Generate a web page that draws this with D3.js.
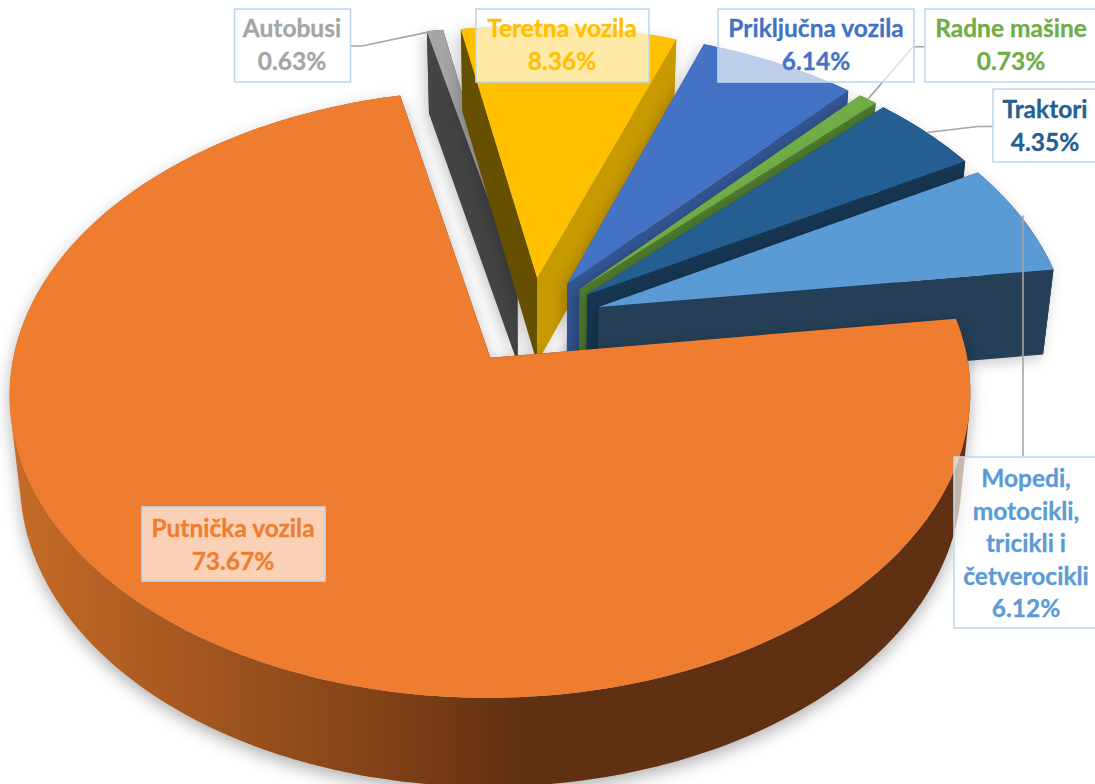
<!DOCTYPE html>
<html><head><meta charset="utf-8">
<script src="https://cdn.jsdelivr.net/npm/d3@7"></script>
<style>html,body{margin:0;padding:0;background:#fff;overflow:hidden}svg{display:block}</style>
</head><body><svg id="c" width="1095" height="784"></svg>
<script>
// data
const categories = ["Putnička vozila","Autobusi","Teretna vozila","Priključna vozila","Radne mašine","Traktori","Mopedi, motocikli, tricikli i četverocikli"];
const values = [73.67,0.63,8.36,6.14,0.73,4.35,6.12];
const valueLabels = ["73.67%","0.63%","8.36%","6.14%","0.73%","4.35%","6.12%"];
const labelLines = [["Putnička vozila"],["Autobusi"],["Teretna vozila"],["Priključna vozila"],["Radne mašine"],["Traktori"],["Mopedi,","motocikli,","tricikli i","četverocikli"]];

// style
const topColors  = ["#EF7D30","#A5A5A5","#FFC000","#4472C4","#70AD47","#255E91","#5B9BD5"];
const textColors = ["#EF7D30","#A5A5A5","#FFC000","#4472C4","#70AD47","#255E91","#5B9BD5"];
const sideStart = ["#5F3012","#444444","#665000","#335593","#4E7A30","#163652","#243F57"];
const sideEnd   = ["#5F3012","#444444","#C79A00","#335593","#4E7A30","#163652","#243F57"];
const drawOrder = [1,2,3,4,5,6,0];

// layout: [x0,y0,x1,y1,textCx,firstBaseline]
const boxes = [
 [142,507,325,581,233,537],
 [234.5,9,350.5,82,292,37],
 [476,9,649,82,562,37],
 [718,9,914,82,816,37],
 [925,9,1097,82,1011,37],
 [993,89,1097,162,1045,118],
 [954,457,1097,628,1026,487]];
const lineStep = 32.6;

const Cx=531.5, Cy=321, R=470, S=291, K=0.117, SKEW=2.8, EXPL=0.152, startDeg=82.4;
const xScale=d3.scaleLinear().domain([-1,1]).range([Cx-R,Cx+R]);
const yScale=d3.scaleLinear().domain([-1,1]).range([Cy-S,Cy+S]);

function project(p,q,bottom){
  const w=1-K*q;
  let X=xScale(p/w)+SKEW*q, Y=yScale(q/w);
  if(bottom){ X=Cx+(X-Cx)*0.98; Y=Y+85.5+3*q; }
  return [X,Y];
}
const pie=d3.pie().sort(null).startAngle(startDeg*Math.PI/180).endAngle((startDeg+360)*Math.PI/180);
const arcs=pie(values);

function sliceGeom(a){
  const mid=(a.startAngle+a.endAngle)/2;
  const ox=EXPL*Math.sin(mid), oy=-EXPL*Math.cos(mid);
  const pt=(th,r,b)=>project(ox+r*Math.sin(th),oy-r*Math.cos(th),b);
  const n=Math.max(2,Math.ceil((a.endAngle-a.startAngle)*60));
  const ths=d3.range(n+1).map(i=>a.startAngle+(a.endAngle-a.startAngle)*i/n);
  return {mid,pt,ths};
}
const line=d3.line();
const svg=d3.select("#c");
const defs=svg.append("defs");
const grad=defs.append("linearGradient").attr("id","wall").attr("gradientUnits","userSpaceOnUse")
  .attr("x1",15).attr("x2",965).attr("y1",0).attr("y2",0);
[[0,"#C66B27"],[0.4,"#7F4017"],[0.54,"#5F3012"],[1,"#5F3012"]]
 .forEach(s=>grad.append("stop").attr("offset",s[0]).attr("stop-color",s[1]));

const gPie=svg.append("g");
drawOrder.forEach(i=>{
  const g=sliceGeom(arcs[i]);
  const sg=gPie.append("g").style("filter",i===0?"drop-shadow(0px 6px 8px rgba(0,0,0,.3))":"drop-shadow(-3px 4px 7px rgba(0,0,0,.22))");
  const aTop=g.pt(0,0,false), aBot=g.pt(0,0,true);
  const outerTop=g.ths.map(t=>g.pt(t,1,false));
  const wallFill=i===0?"url(#wall)":sideEnd[i];
  // outer wall: swept quads with one winding in a single path, so there are no seams
  const wallD=d3.pairs(g.ths).map(([t0,t1])=>{
    const q=[g.pt(t0,1,false),g.pt(t1,1,false),g.pt(t1,1,true),g.pt(t0,1,true)];
    if(d3.polygonArea(q)<0) q.reverse();
    return line(q)+"Z";
  }).join("");
  sg.append("path").attr("d",wallD).attr("fill",wallFill);
  const s=arcs[i].startAngle,e=arcs[i].endAngle;
  sg.append("path").attr("d",line([aTop,g.pt(e,1,false),g.pt(e,1,true),aBot])+"Z").attr("fill",sideEnd[i]);
  sg.append("path").attr("d",line([aTop,g.pt(s,1,false),g.pt(s,1,true),aBot])+"Z").attr("fill",sideStart[i]);
  sg.append("path").attr("d",line([aTop].concat(outerTop))+"Z").attr("fill",topColors[i]);
});

function outerMid(i){const g=sliceGeom(arcs[i]);return g.pt(g.mid,1,false);}
const leaderElbows={1:[[350.5,46],[362,46]],4:[[925,46.7],[913,46.7]],5:[[993,126.5],[978,126.5]]};
const gLead=svg.append("g").attr("fill","none").attr("stroke","#A5A5A5").attr("stroke-width",1.6);
Object.keys(leaderElbows).forEach(k=>{
  gLead.append("path").attr("d",line(leaderElbows[k].concat([outerMid(+k)])));
});
gLead.append("path").attr("d",line([[1023,457],[1023,outerMid(6)[1]-3]]));

const gLab=svg.append("g").attr("font-family","Lato, 'Open Sans', sans-serif").attr("font-weight",700).attr("font-size",24.5);
categories.forEach((c,i)=>{
  const b=boxes[i];
  gLab.append("rect").attr("x",b[0]).attr("y",b[1]).attr("width",b[2]-b[0]).attr("height",b[3]-b[1])
    .attr("fill","#fff").attr("fill-opacity",0.65).attr("stroke","#BDD7EE").attr("stroke-width",1.6);
  labelLines[i].concat([valueLabels[i]]).forEach((t,j)=>{
    gLab.append("text").attr("x",b[4]).attr("y",b[5]+j*lineStep).attr("text-anchor","middle")
      .attr("fill",textColors[i]).attr("stroke",textColors[i]).attr("stroke-width",0.3).text(t);
  });
});
</script></body></html>
